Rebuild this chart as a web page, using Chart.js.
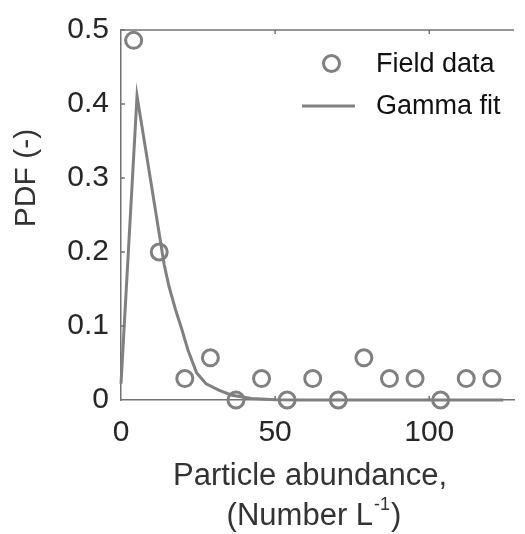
<!DOCTYPE html>
<html>
<head>
<meta charset="utf-8">
<script src="https://cdn.jsdelivr.net/npm/chart.js@4"></script>
<style>
  html, body { margin: 0; padding: 0; background: #fff; overflow: hidden; }
  #wrap { position: relative; width: 525px; height: 534px; }
</style>
</head>
<body>
<div id="wrap"><canvas id="pdfChart" width="525" height="534"></canvas></div>
<script>
// Field data (bin centres and PDF values)
const dataX = [4.1, 12.4, 20.7, 29.0, 37.3, 45.6, 53.9, 62.2, 70.5, 78.8, 87.1, 95.4, 103.7, 112.0, 120.3];
const dataY = [0.486, 0.2, 0.029, 0.057, 0, 0.029, 0, 0.029, 0, 0.057, 0.029, 0.029, 0, 0.029, 0.029];

// Gamma fit curve
const fitX = [0, 5.2, 10.3, 14, 15.6, 17.7, 19.7, 21.7, 24.5, 27.6, 31.9, 36, 42.4, 50, 60, 124];
const fitY = [0.022, 0.411, 0.279, 0.183, 0.153, 0.122, 0.096, 0.068, 0.037, 0.022, 0.013, 0.0065, 0.002, 0.0005, 0, 0];

const xTicks = [0, 50, 100];
const yTicks = [0, 0.1, 0.2, 0.3, 0.4, 0.5];

const FONT = "'Liberation Sans', Arial, sans-serif";
const GRAY = '#808080';
const AXIS = '#737373';

const toPoints = (xs, ys) => xs.map((x, i) => ({ x: x, y: ys[i] }));

// Frame, inner ticks, axis titles and the legend (MATLAB-like look)
const decorPlugin = {
  id: 'decor',
  afterDraw(chart) {
    const { ctx, chartArea: a, scales } = chart;
    ctx.save();
    ctx.strokeStyle = AXIS;
    ctx.lineWidth = 1.5;

    // top border
    ctx.beginPath();
    ctx.moveTo(a.left, a.top);
    ctx.lineTo(a.right, a.top);
    ctx.stroke();

    // inner tick marks
    ctx.beginPath();
    yTicks.slice(1).forEach(v => {
      const y = scales.y.getPixelForValue(v);
      ctx.moveTo(a.left, y);
      ctx.lineTo(a.left + 4, y);
    });
    xTicks.slice(1).forEach(v => {
      const x = scales.x.getPixelForValue(v);
      ctx.moveTo(x, a.bottom);
      ctx.lineTo(x, a.bottom - 4);
      ctx.moveTo(x, a.top);
      ctx.lineTo(x, a.top + 4);
    });
    ctx.stroke();

    // y title
    ctx.fillStyle = '#333';
    ctx.font = '30px ' + FONT;
    ctx.textAlign = 'center';
    ctx.textBaseline = 'middle';
    ctx.save();
    ctx.translate(27, 178);
    ctx.rotate(-Math.PI / 2);
    ctx.fillText('PDF (-)', 0, 0);
    ctx.restore();

    // x title, two lines with a superscript
    ctx.textBaseline = 'alphabetic';
    ctx.font = '31px ' + FONT;
    ctx.fillText('Particle abundance,', 310, 485);
    const p1 = '(Number L', p2 = '-1', p3 = ')';
    ctx.font = '31px ' + FONT;
    const w1 = ctx.measureText(p1).width, w3 = ctx.measureText(p3).width;
    ctx.font = '18px ' + FONT;
    const w2 = ctx.measureText(p2).width;
    let x0 = 314 - (w1 + w2 + w3 + 2) / 2;
    ctx.textAlign = 'left';
    ctx.font = '31px ' + FONT;
    ctx.fillText(p1, x0, 525);
    ctx.font = '18px ' + FONT;
    ctx.fillText(p2, x0 + w1 + 1, 510);
    ctx.font = '31px ' + FONT;
    ctx.fillText(p3, x0 + w1 + w2 + 2, 525);

    // legend
    const ds = chart.data.datasets;
    ctx.fillStyle = '#111';
    ctx.font = '27px ' + FONT;
    ctx.textBaseline = 'middle';
    ctx.fillText(ds[0].label, 376, 65);
    ctx.fillText(ds[1].label, 376, 107);
    ctx.strokeStyle = GRAY;
    ctx.lineWidth = 3;
    ctx.beginPath();
    ctx.arc(331.5, 63.5, 8, 0, Math.PI * 2);
    ctx.stroke();
    ctx.beginPath();
    ctx.moveTo(302, 106);
    ctx.lineTo(355, 106);
    ctx.stroke();

    ctx.restore();
  }
};

new Chart(document.getElementById('pdfChart').getContext('2d'), {
  type: 'scatter',
  data: {
    datasets: [
      {
        label: 'Field data',
        data: toPoints(dataX, dataY),
        pointStyle: 'circle',
        pointRadius: 8,
        pointBorderWidth: 3,
        borderColor: GRAY,
        backgroundColor: 'rgba(0,0,0,0)',
        clip: false,
        order: 2
      },
      {
        label: 'Gamma fit',
        type: 'line',
        data: toPoints(fitX, fitY),
        borderColor: GRAY,
        borderWidth: 3,
        pointRadius: 0,
        tension: 0,
        fill: false,
        clip: false,
        order: 1
      }
    ]
  },
  options: {
    responsive: false,
    animation: false,
    layout: { padding: { top: 18, left: 0, right: 0, bottom: 0 } },
    plugins: {
      legend: { display: false },
      tooltip: { enabled: false }
    },
    scales: {
      x: {
        type: 'linear',
        min: 0,
        max: 127.5,
        afterFit: s => { s.height = 134; },
        afterBuildTicks: s => { s.ticks = xTicks.map(v => ({ value: v })); },
        grid: { display: false, drawTicks: false },
        border: { display: true, color: AXIS, width: 1.5 },
        ticks: {
          padding: 15,
          color: '#262626',
          font: { family: FONT, size: 30 },
          maxRotation: 0
        }
      },
      y: {
        min: 0,
        max: 0.5,
        afterFit: s => { s.width = 121; },
        afterBuildTicks: s => { s.ticks = yTicks.map(v => ({ value: v })); },
        grid: { display: false, drawTicks: false },
        border: { display: true, color: AXIS, width: 1.5 },
        ticks: {
          padding: 12,
          color: '#262626',
          font: { family: FONT, size: 30 },
          callback: v => (v === 0 ? '0' : v.toFixed(1))
        }
      }
    }
  },
  plugins: [decorPlugin]
});
</script>
</body>
</html>
